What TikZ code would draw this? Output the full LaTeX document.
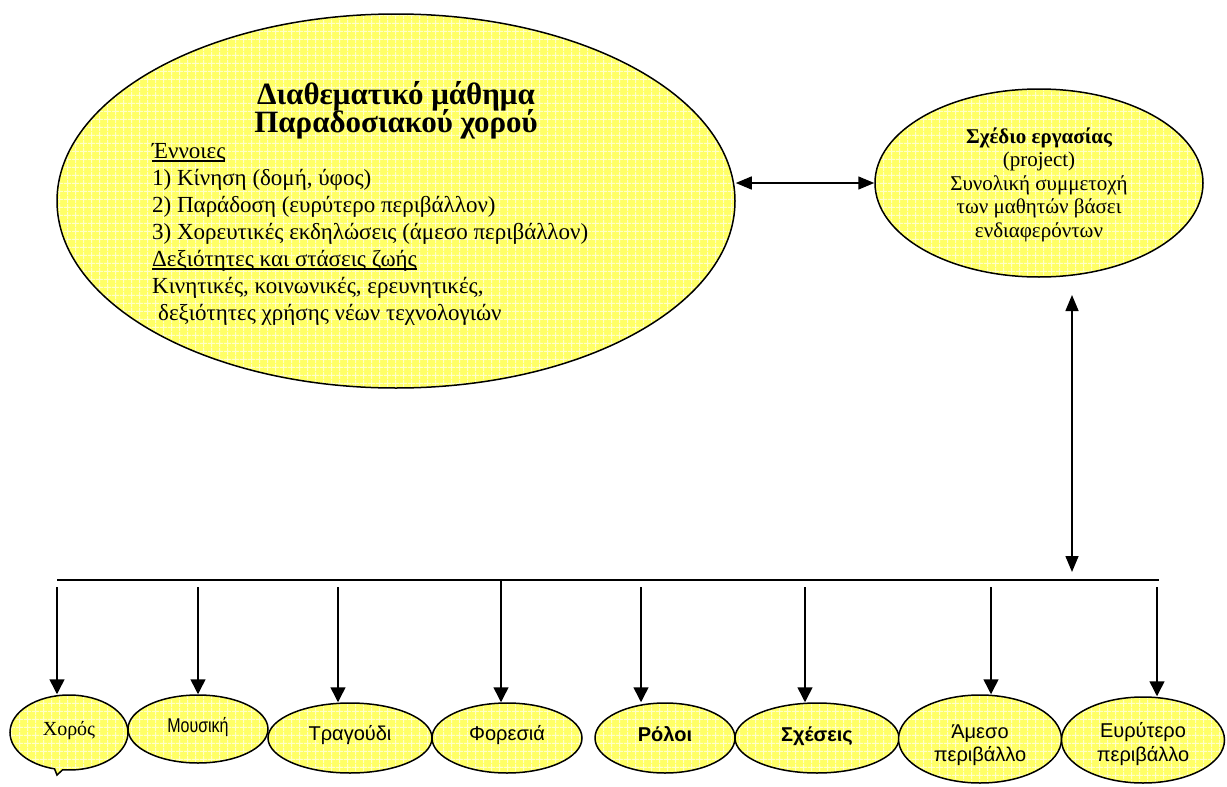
\documentclass[tikz,border=0pt]{standalone}
\usepackage{fontspec}
\setmainfont{Liberation Serif}
\setsansfont{Liberation Sans}
\newfontfamily\grserif{Liberation Serif}
\newfontfamily\grsans{Liberation Sans}
\usepackage{graphicx}
\usetikzlibrary{shapes.geometric,shapes.callouts,arrows.meta,patterns.meta}

\definecolor{bubfill}{RGB}{255,255,102}
\definecolor{bubline}{RGB}{255,255,200}

% light square grid laid over the yellow fill of the bubbles
\tikzdeclarepattern{
  name=yellowgrid,
  type=uncolored,
  bottom left={(0pt,0pt)},
  top right={(8pt,8pt)},
  tile size={(8pt,8pt)},
  code={\draw[line width=1pt] (0pt,4pt) -- (8pt,4pt) (4pt,0pt) -- (4pt,8pt);}
}

% underline at a fixed depth below the baseline
\newcommand\ulword[1]{\setbox0\hbox{#1}\rlap{\rule[-3.5pt]{\wd0}{1.4pt}}#1}

\begin{document}
\begin{tikzpicture}[x=1pt,y=-1pt,
  bub/.style={ellipse, draw=black, line width=1.5pt, inner sep=0pt,
    preaction={fill=bubfill}, pattern=yellowgrid, pattern color=bubline},
  wire/.style={line width=1.5pt},
  tip/.style={wire, -{Triangle[width=15pt,length=15pt]}},
  dbl/.style={wire, {Triangle[width=13pt,length=16pt]}-{Triangle[width=13pt,length=16pt]}},
  ttl/.style={font=\grserif\bfseries\fontsize{31}{34}\selectfont, inner sep=0pt, anchor=base},
  body/.style={font=\grserif\fontsize{23}{26}\selectfont, inner sep=0pt, anchor=base west},
  ptxt/.style={font=\grserif\fontsize{21}{24}\selectfont, inner sep=0pt, anchor=base},
  stxt/.style={font=\grsans\fontsize{20}{23}\selectfont, inner sep=0pt, anchor=base},
  sbold/.style={stxt, font=\grsans\bfseries\fontsize{20}{23}\selectfont},
]
\useasboundingbox[fill=white] (0,0) rectangle (1227,787);

% ---- main lesson bubble ----
\node[bub, minimum width=678pt, minimum height=374pt] (main) at (396,201) {};
\node[ttl] (t1) at (396,104) {Διαθεματικό μάθημα};
\node[ttl] (t2) at (396,132) {Παραδοσιακού χορού};
\node[body] (b1) at (152,158) {\ulword{Έννοιες}};
\node[body] (b2) at (152,185) {1) Κίνηση (δομή, ύφος)};
\node[body] (b3) at (152,212) {2) Παράδοση (ευρύτερο περιβάλλον)};
\node[body] (b4) at (152,239) {3) Χορευτικές εκδηλώσεις (άμεσο περιβάλλον)};
\node[body] (b5) at (152,266) {\ulword{Δεξιότητες και στάσεις ζωής}};
\node[body] (b6) at (152,293) {Κινητικές, κοινωνικές, ερευνητικές,};
\node[body] (b7) at (158,320) {δεξιότητες χρήσης νέων τεχνολογιών};

% ---- project bubble ----
\node[bub, minimum width=328pt, minimum height=188pt] (proj) at (1039,183) {};
\node[ptxt, font=\grserif\bfseries\fontsize{21}{24}\selectfont] (p1) at (1039,143) {Σχέδιο εργασίας};
\node[ptxt] (p2) at (1039,166.5) {(project)};
\node[ptxt] (p3) at (1039,190) {Συνολική συμμετοχή};
\node[ptxt] (p4) at (1039,213.5) {των μαθητών βάσει};
\node[ptxt] (p5) at (1039,237) {ενδιαφερόντων};

\draw[dbl] (main.east |- proj.west) -- (proj.west);

% ---- link down to the row of topics ----
\coordinate (vtop) at (1072,295);
\coordinate (vbot) at (1072,572);
\draw[dbl] (vtop) -- (vbot);

\coordinate (busL) at (57,580);
\coordinate (busR) at (1159,580);
\draw[wire] (busL) -- (busR);

% ---- topic bubbles ----
\node[bub, ellipse callout, minimum width=118pt, minimum height=75pt,
      callout pointer arc=8, callout absolute pointer={(57,775)}] (xoros) at (69,732.5) {};
\node[bub, minimum width=140pt, minimum height=68pt] (mousiki) at (198,729) {};
\node[bub, minimum width=164pt, minimum height=70pt] (tragoudi) at (350,738) {};
\node[bub, minimum width=150pt, minimum height=70pt] (foresia) at (507,738) {};
\node[bub, minimum width=140pt, minimum height=70pt] (roloi) at (665,738) {};
\node[bub, minimum width=164pt, minimum height=70pt] (sxeseis) at (817,738) {};
\node[bub, minimum width=163pt, minimum height=88pt] (ameso) at (980,739) {};
\node[bub, minimum width=163pt, minimum height=86pt] (eyry) at (1143,740) {};

\node[ptxt, font=\grserif\fontsize{20}{23}\selectfont] (l1) at (69,735) {Χορός};
\node[stxt] (l2) at (198,732) {\scalebox{0.8}[1]{Μουσική}};
\node[stxt] (l3) at (350,740) {Τραγούδι};
\node[stxt] (l4) at (507,740) {Φορεσιά};
\node[sbold] (l5) at (665,741) {Ρόλοι};
\node[sbold] (l6) at (817,741) {Σχέσεις};
\node[stxt] (l7a) at (980,738) {Άμεσο};
\node[stxt] (l7b) at (980,761) {περιβάλλο};
\node[stxt] (l8a) at (1143,737) {Ευρύτερο};
\node[stxt] (l8b) at (1143,761) {περιβάλλο};

% ---- drops from the bar ----
\coordinate (d1) at (57,587);
\coordinate (d2) at (198,587);
\coordinate (d3) at (338,587);
\coordinate (d4) at (501,580);
\coordinate (d5) at (641,587);
\coordinate (d6) at (805,587);
\coordinate (d7) at (991,587);
\coordinate (d8) at (1157,587);
\draw[tip] (d1) -- (d1 |- xoros.north);
\draw[tip] (d2) -- (d2 |- mousiki.north);
\draw[tip] (d3) -- (d3 |- tragoudi.north);
\draw[tip] (d4) -- (d4 |- foresia.north);
\draw[tip] (d5) -- (d5 |- roloi.north);
\draw[tip] (d6) -- (d6 |- sxeseis.north);
\draw[tip] (d7) -- (d7 |- ameso.north);
\draw[tip] (d8) -- (d8 |- eyry.north);
\end{tikzpicture}
\end{document}
